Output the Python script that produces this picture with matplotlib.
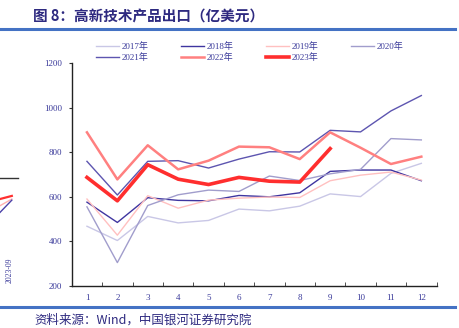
import matplotlib
matplotlib.use("Agg")
import matplotlib.pyplot as plt
from matplotlib.lines import Line2D

plt.rcParams['font.family'] = ['Liberation Serif', 'Noto Sans CJK SC', 'DejaVu Sans']

months = list(range(1, 13))
month_labels = [str(m) for m in months]

y2017 = [468, 404, 512, 483, 494, 545, 537, 558, 613, 601, 705, 750]
y2018 = [576, 485, 596, 584, 582, 606, 600, 618, 714, 720, 720, 672]
y2019 = [590, 428, 605, 549, 585, 594, 599, 597, 672, 697, 711, 675]
y2020 = [555, 305, 561, 609, 630, 624, 693, 673, 703, 723, 861, 855]
y2021 = [759, 608, 759, 762, 729, 769, 802, 801, 898, 891, 985, 1054]
y2022 = [889, 678, 831, 723, 762, 825, 822, 769, 889, 820, 747, 780]
y2023 = [687, 582, 744, 679, 655, 687, 670, 666, 816]

series_names = ['2017年', '2018年', '2019年', '2020年', '2021年', '2022年', '2023年']
series_vals = [y2017, y2018, y2019, y2020, y2021, y2022, y2023]
colors = ['#c9c7e6', '#3f35a0', '#ffc0c0', '#a19dcc', '#5d55b0', '#ff8080', '#ff2e2e']
widths = [1.0, 1.0, 1.0, 1.0, 1.0, 1.8, 2.6]

# fragment of the neighbouring chart at the left edge
frag_x = [0, 1]
frag_red = [590, 604]
frag_pink = [560, 590]
frag_blue = [530, 585]
frag_level = 684

title = '图 8：高新技术产品出口（亿美元）'
source = '资料来源：Wind，中国银河证券研究院'
text_color = '#3a3a9a'

fig = plt.figure(figsize=(4.6, 3.28), dpi=100)

# neighbouring chart fragment
fx = fig.add_axes([0.0, 0.128, 0.045, 0.68])
fx.plot(frag_x, frag_red, color='#ff3030', lw=1.6)
fx.plot(frag_x, frag_pink, color='#ffb0b0', lw=1.0)
fx.plot(frag_x, frag_blue, color='#4a40a8', lw=1.0)
fx.axhline(frag_level, xmin=0, xmax=0.87, color='#333333', lw=1.0)
fx.set_xlim(0, 1.75)
fx.set_ylim(200, 1200)
fx.axis('off')
fig.text(0.022, 0.177, '2023-09', rotation=90, fontsize=5.5, color=text_color,
         ha='center', va='center')

ax = fig.add_axes([0.156, 0.128, 0.793, 0.680])
for name, vals, c, w in zip(series_names, series_vals, colors, widths):
    ax.plot(months[:len(vals)], vals, color=c, lw=w, label=name)

ax.set_xlim(0.5, 12.5)
ax.set_ylim(200, 1200)
ax.set_yticks([200, 400, 600, 800, 1000, 1200])
ax.set_xticks(months)
ax.set_xticklabels(month_labels)
ax.set_xticks([m + 0.5 for m in months], minor=True)
ax.tick_params(axis='x', which='major', length=0, labelsize=6.5, colors=text_color, pad=6)
ax.tick_params(axis='x', which='minor', direction='in', length=3, color='#333333')
ax.tick_params(axis='y', length=2, direction='out', labelsize=6.5, colors=text_color, pad=5)
ax.tick_params(axis='y', color='#333333')
for s in ['top', 'right']:
    ax.spines[s].set_visible(False)
ax.spines['left'].set_color('#222222')
ax.spines['bottom'].set_color('#222222')
ax.spines['left'].set_linewidth(1.0)
ax.spines['bottom'].set_linewidth(1.0)

# legend laid out row by row (matplotlib fills columns first)
handles = [Line2D([], [], color=c, lw=w) for c, w in zip(colors, widths)]
order = [0, 4, 1, 5, 2, 6, 3]
leg = fig.legend([handles[i] for i in order], [series_names[i] for i in order],
                 loc='upper left', bbox_to_anchor=(0.208, 0.872),
                 ncol=4, frameon=False, fontsize=6.5, handlelength=2.6,
                 handletextpad=0.25, columnspacing=3.6, labelspacing=0.25,
                 borderaxespad=0, borderpad=0)
for t in leg.get_texts():
    t.set_color(text_color)

fig.text(0.072, 0.951, title, fontsize=10.5, fontweight='bold', color='#2e2a80',
         ha='left', va='center', family=['Noto Sans CJK SC', 'DejaVu Sans'])
fig.add_artist(Line2D([0.0, 0.99], [0.911, 0.911], color='#4472c4', lw=2.2))
fig.add_artist(Line2D([0.0, 0.99], [0.064, 0.064], color='#4472c4', lw=2.2))
fig.text(0.075, 0.024, source, fontsize=9, color='#2e2a80', style='italic',
         ha='left', va='center', family=['Noto Sans CJK SC', 'DejaVu Sans'])

fig.savefig('out.png', dpi=100)
